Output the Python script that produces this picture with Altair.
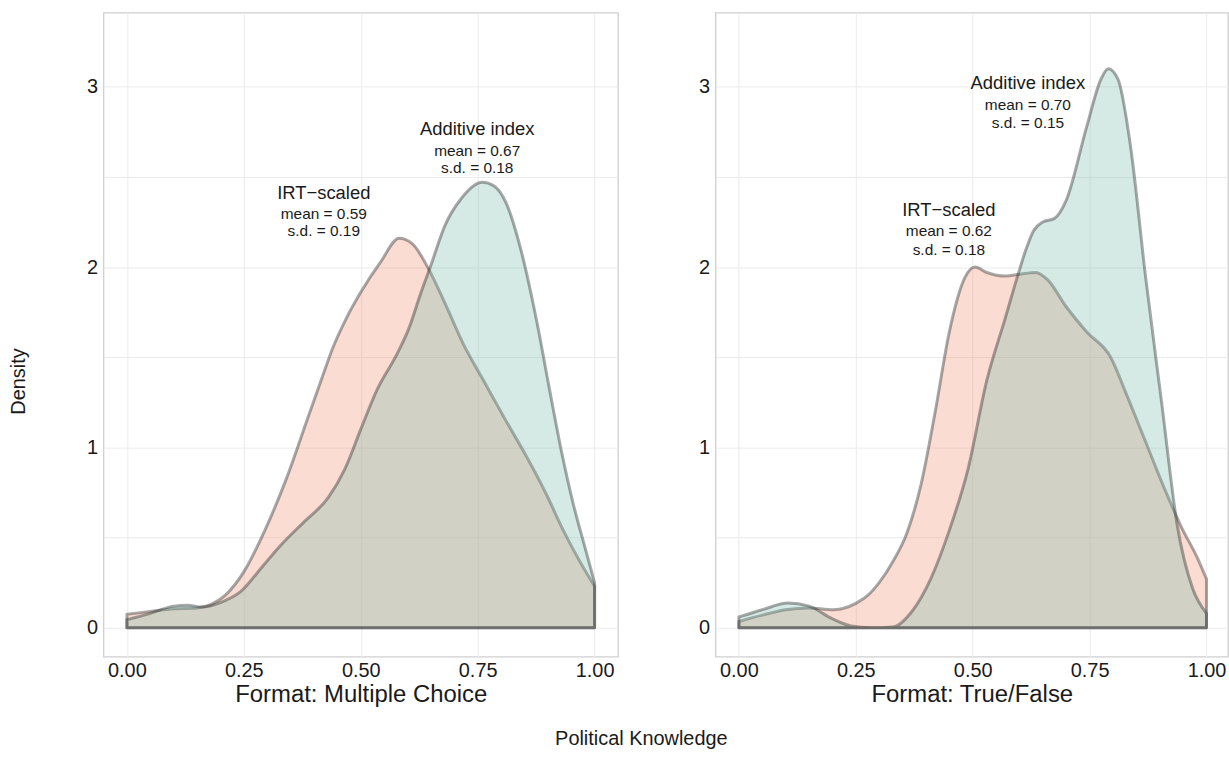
import altair as alt
import pandas as pd

FONT = "Liberation Sans"

# ---- Panel 1: Multiple Choice ----
mc_irt_x = [0.0, 0.05, 0.1, 0.15, 0.18, 0.21, 0.25, 0.295, 0.34, 0.389, 0.415, 0.44, 0.47, 0.5, 0.543, 0.582, 0.61, 0.645, 0.68, 0.72, 0.765, 0.81, 0.85, 0.895, 0.935, 0.97, 1.0]
mc_irt_y = [0.075, 0.09, 0.105, 0.11, 0.13, 0.18, 0.31, 0.54, 0.82, 1.18, 1.37, 1.55, 1.72, 1.86, 2.03, 2.16, 2.13, 1.99, 1.80, 1.57, 1.36, 1.15, 0.97, 0.75, 0.53, 0.36, 0.23]

mc_add_x = [0.0, 0.05, 0.1, 0.13, 0.16, 0.2, 0.243, 0.29, 0.33, 0.38, 0.43, 0.466, 0.5, 0.535, 0.578, 0.603, 0.629, 0.65, 0.68, 0.715, 0.76, 0.785, 0.81, 0.843, 0.877, 0.903, 0.929, 0.955, 0.98, 1.0]
mc_add_y = [0.045, 0.08, 0.12, 0.125, 0.115, 0.14, 0.2, 0.34, 0.46, 0.59, 0.72, 0.88, 1.10, 1.32, 1.52, 1.66, 1.86, 2.01, 2.23, 2.38, 2.47, 2.45, 2.36, 2.09, 1.69, 1.33, 0.98, 0.68, 0.44, 0.25]

# ---- Panel 2: True/False ----
tf_irt_x = [0.0, 0.05, 0.1, 0.15, 0.2, 0.22, 0.25, 0.28, 0.3, 0.33, 0.36, 0.39, 0.42, 0.45, 0.483, 0.505, 0.53, 0.57, 0.6, 0.635, 0.66, 0.7, 0.744, 0.795, 0.828, 0.87, 0.912, 0.946, 0.98, 1.0]
tf_irt_y = [0.035, 0.07, 0.10, 0.11, 0.10, 0.105, 0.135, 0.19, 0.25, 0.37, 0.53, 0.80, 1.20, 1.64, 1.94, 2.00, 1.97, 1.95, 1.96, 1.97, 1.93, 1.78, 1.64, 1.50, 1.30, 1.03, 0.76, 0.56, 0.39, 0.27]

tf_add_x = [0.0, 0.05, 0.105, 0.15, 0.2, 0.24, 0.28, 0.33, 0.37, 0.41, 0.45, 0.49, 0.53, 0.57, 0.596, 0.613, 0.63, 0.65, 0.675, 0.70, 0.744, 0.774, 0.79, 0.811, 0.837, 0.87, 0.904, 0.938, 0.97, 1.0]
tf_add_y = [0.06, 0.10, 0.137, 0.12, 0.05, 0.01, 0.0, 0.005, 0.09, 0.27, 0.54, 0.88, 1.37, 1.72, 1.95, 2.09, 2.20, 2.25, 2.27, 2.37, 2.78, 3.04, 3.10, 3.04, 2.68, 1.94, 1.25, 0.56, 0.22, 0.08]

# ---- Annotations ----
ann_panel = ["mc"] * 6 + ["tf"] * 6
ann_text = ["IRT\u2212scaled", "mean = 0.59", "s.d. = 0.19",
            "Additive index", "mean = 0.67", "s.d. = 0.18",
            "IRT\u2212scaled", "mean = 0.62", "s.d. = 0.18",
            "Additive index", "mean = 0.70", "s.d. = 0.15"]
ann_x = [0.421] * 3 + [0.749] * 3 + [0.449] * 3 + [0.618] * 3
ann_y = [2.41, 2.296, 2.199, 2.768, 2.646, 2.547, 2.318, 2.199, 2.096, 3.018, 2.897, 2.799]
ann_size = [18.5, 15.5, 15.5] * 4

RED = "#EE8A69"
TEAL = "#76B9A8"


def curve(xs, ys):
    return pd.DataFrame({"x": xs, "y": ys})


ann = pd.DataFrame({"panel": ann_panel, "text": ann_text, "x": ann_x, "y": ann_y, "fs": ann_size})


def panel(irt, add, key, xtitle, width, xmax, left):
    xscale = alt.Scale(domain=[-0.05, xmax], nice=False, zero=False)
    yscale = alt.Scale(domain=[-0.16, 3.41], nice=False, zero=False)
    common = dict(labelFont=FONT, labelFontSize=20, labelColor="#1a1a1a", ticks=False,
                  domain=False, gridColor="#ebebeb", gridWidth=1)
    xaxis = alt.Axis(values=[0, 0.25, 0.5, 0.75, 1.0], format=".2f", title=xtitle,
                     titleFont=FONT, titleFontSize=24, titleFontWeight="normal",
                     titleColor="#1a1a1a", titlePadding=2, labelPadding=4, **common)
    yvals = [0, 0.5, 1, 1.5, 2, 2.5, 3]
    lab = "datum.value % 1 == 0 ? format(datum.value, 'd') : ''"
    if left:
        yaxis = alt.Axis(values=yvals, labelExpr=lab,
                         title="Density", titleFont=FONT, titleFontSize=20,
                         titleFontWeight="normal", titleColor="#1a1a1a", titleAngle=270,
                         titleAlign="center", titleBaseline="middle",
                         titleX=-85, titleY=370, labelPadding=6, **common)
    else:
        yaxis = alt.Axis(values=yvals, labelExpr=lab, title=None, labelPadding=6, **common)

    def area(df, color):
        return alt.Chart(df).mark_area(
            interpolate="monotone", fill=color, fillOpacity=0.3,
            stroke="#303030", strokeOpacity=0.42, strokeWidth=3, strokeJoin="round"
        ).encode(
            x=alt.X("x:Q", scale=xscale, axis=xaxis),
            y=alt.Y("y:Q", scale=yscale, axis=yaxis),
            y2=alt.datum(0),
        )

    text = alt.Chart(ann[ann["panel"] == key]).mark_text(
        font=FONT, color="#1a1a1a", baseline="middle", align="center"
    ).encode(
        x=alt.X("x:Q", scale=xscale),
        y=alt.Y("y:Q", scale=yscale),
        text="text:N",
        size=alt.Size("fs:Q", scale=None, legend=None),
    )
    return alt.layer(area(irt, RED), area(add, TEAL), text).properties(width=width, height=647)


left = panel(curve(mc_irt_x, mc_irt_y), curve(mc_add_x, mc_add_y), "mc",
             "Format: Multiple Choice", 517, 1.05, True)
right = panel(curve(tf_irt_x, tf_irt_y), curve(tf_add_x, tf_add_y), "tf",
              "Format: True/False", 515, 1.046, False)

chart = alt.hconcat(left, right, spacing=79).properties(
    padding={"left": 8, "top": 10, "right": 0, "bottom": 0},
    background="white",
    title=alt.TitleParams("Political Knowledge", orient="bottom", anchor="middle",
                          fontSize=20, fontWeight="normal", font=FONT, color="#1a1a1a",
                          offset=22, dx=23),
).configure_view(
    stroke="#cfcfcf", strokeWidth=1.3,
)

chart.save("out.html", embed_options={"renderer": "svg", "actions": False})
